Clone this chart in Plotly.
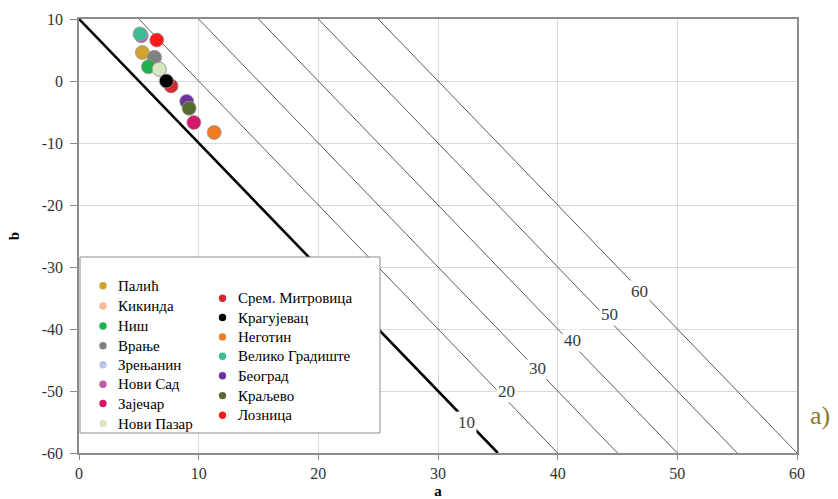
import plotly.graph_objects as go

# ---------------- data ----------------
cities = ["Палић", "Кикинда", "Ниш", "Врање", "Зрењанин", "Нови Сад", "Зајечар", "Нови Пазар",
          "Срем. Митровица", "Крагујевац", "Неготин", "Велико Градиште", "Београд", "Краљево", "Лозница"]
a_vals = [5.3, 6.3, 5.8, 6.3, 6.7, 5.2, 9.6, 6.7, 7.7, 7.3, 11.3, 5.1, 9.0, 9.2, 6.5]
b_vals = [4.6, 3.8, 2.3, 3.8, 1.9, 7.3, -6.7, 1.9, -0.8, 0.0, -8.3, 7.6, -3.3, -4.4, 6.6]
colors = ["#d1a22f", "#f8b897", "#1fb24a", "#808080", "#b4c7e7", "#c25ba9", "#d6186b", "#d8e6c2",
          "#d9262b", "#000000", "#ef7b22", "#3dbb94", "#7030a0", "#556b2f", "#ff1a1a"]
draw_order = [1, 4, 0, 3, 2, 7, 5, 11, 14, 8, 9, 12, 13, 6, 10]

# reference lines b = 10 - 2*(a - k), labelled 10..60
line_offsets = [0, 5, 10, 15, 20, 25]
line_labels = ["10", "20", "30", "40", "50", "60"]
label_a = [32.4, 35.7, 38.3, 41.2, 44.3, 46.8]
label_b = [-55.0, -50.0, -46.3, -41.9, -37.7, -34.0]

x_ticks = [0, 10, 20, 30, 40, 50, 60]
x_ticktext = ["0", "10", "20", "30", "40", "50", "60"]
y_ticks = [10, 0, -10, -20, -30, -40, -50, -60]
y_ticktext = ["10", "0", "-10", "-20", "-30", "-40", "-50", "-60"]

SERIF = "Liberation Serif"

# pixel -> paper helpers (plot area 79..797 x 19..453)
def px(xp):
    return (xp - 79) / 718.0

def py(yp):
    return (453 - yp) / 434.0

fig = go.Figure()

for i, k in enumerate(line_offsets):
    xs = [k, k + 35]
    ys = [10 - 2 * (x - k) for x in xs]
    fig.add_trace(go.Scatter(
        x=xs, y=ys, mode="lines",
        line=dict(color="#000000" if i == 0 else "#5a5a5a", width=2.6 if i == 0 else 1),
        showlegend=False, hoverinfo="skip"))

for idx in draw_order:
    fig.add_trace(go.Scatter(
        x=[a_vals[idx]], y=[b_vals[idx]], mode="markers",
        marker=dict(size=14, color=colors[idx], line=dict(color="#9a9a9a", width=0.8)),
        name=cities[idx], showlegend=False))

for lab, la, lb in zip(line_labels, label_a, label_b):
    fig.add_annotation(x=la, y=lb, text=lab, showarrow=False,
                       font=dict(family=SERIF, size=17, color="#3a3a3a"),
                       bgcolor="white", borderpad=1)

fig.add_annotation(x=px(820), y=py(415), xref="paper", yref="paper",
                   text="a)", showarrow=False, xanchor="center", yanchor="middle",
                   font=dict(family=SERIF, size=26, color="#8a7a2c"))

# legend frame
fig.add_shape(type="rect", xref="paper", yref="paper",
              x0=px(80), x1=px(380), y0=py(433), y1=py(257),
              fillcolor="white", line=dict(color="#8c8c8c", width=1), layer="above")

# legend entries drawn in two columns
col1_y = [285.7, 306.0, 326.0, 345.7, 364.8, 384.3, 403.5, 423.5]
col2_y = [298.3, 317.5, 336.9, 356.2, 375.8, 395.6, 415.3]
for idx, name in enumerate(cities):
    if idx < 8:
        mx, tx, yy = 103, 116, col1_y[idx]
    else:
        mx, tx, yy = 222.5, 235.5, col2_y[idx - 8]
    fig.add_shape(type="circle", xref="paper", yref="paper",
                  x0=px(mx - 3.7), x1=px(mx + 3.7), y0=py(yy + 3.7), y1=py(yy - 3.7),
                  fillcolor=colors[idx], line=dict(width=0), layer="above")
    fig.add_annotation(x=px(tx), y=py(yy), xref="paper", yref="paper",
                       text=name, showarrow=False, xanchor="left", yanchor="middle",
                       font=dict(family=SERIF, size=15, color="#000000"))

fig.update_layout(
    width=838, height=499,
    margin=dict(l=79, r=41, t=19, b=46),
    paper_bgcolor="white", plot_bgcolor="white",
    showlegend=False,
    xaxis=dict(range=[0, 60], tickvals=x_ticks, ticktext=x_ticktext, showgrid=True, gridcolor="#d9d9d9",
               zeroline=False, showline=True, linecolor="#8c8c8c", linewidth=1.5, mirror=True,
               ticks="outside", ticklen=5, tickcolor="#8c8c8c", automargin=False,
               tickfont=dict(family=SERIF, size=16, color="#333333"),
               title=dict(text="<b>a</b>", font=dict(family=SERIF, size=15, color="#000"), standoff=8)),
    yaxis=dict(range=[-60, 10], tickvals=y_ticks, ticktext=y_ticktext, showgrid=True, gridcolor="#d9d9d9",
               zeroline=False, showline=True, linecolor="#8c8c8c", linewidth=1.5, mirror=True,
               ticks="outside", ticklen=7, tickcolor="#8c8c8c", ticklabelstandoff=4, automargin=False,
               tickfont=dict(family=SERIF, size=16, color="#333333"),
               title=dict(text="<b>b</b>", font=dict(family=SERIF, size=15, color="#000"), standoff=18)),
)

fig.write_html("out.html")
